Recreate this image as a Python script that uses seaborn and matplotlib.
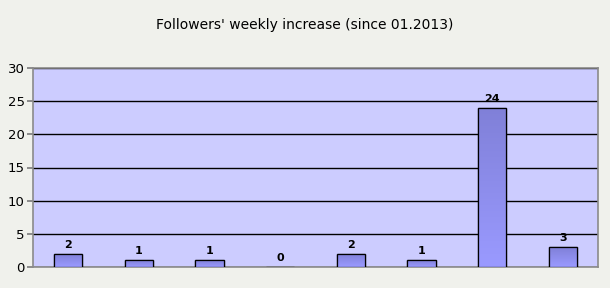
import matplotlib
matplotlib.use("Agg")
import matplotlib.pyplot as plt
import seaborn as sns
import numpy as np
import pandas as pd
from matplotlib.colors import LinearSegmentedColormap

weeks = ["W1", "W2", "W3", "W4", "W5", "W6", "W7", "W8"]
increase = [2, 1, 1, 0, 2, 1, 24, 3]
title = "Followers' weekly increase (since 01.2013)"

df = pd.DataFrame({"week": weeks, "increase": increase})

sns.set_theme(style="white")
plt.rcParams['font.family'] = ['DejaVu Sans']
plt.rcParams['text.color'] = 'black'
plt.rcParams['ytick.color'] = 'black'

fig = plt.figure(figsize=(6.1, 2.88), dpi=100, facecolor="#f0f1ec")
ax = fig.add_axes([33/610, 21/288, 565/610, 199/288])
ax.set_facecolor("#ccccff")

sns.barplot(data=df, x="week", y="increase", ax=ax, width=0.4,
            color="#8c8ce6", edgecolor="black", linewidth=0.9, saturation=1, zorder=3)

ax.set_ylim(0, 30)
ax.set_yticks([0, 5, 10, 15, 20, 25, 30])
ax.yaxis.grid(True, color="black", linewidth=1.0, zorder=1)
ax.set_axisbelow(True)
ax.set_xlabel("")
ax.set_ylabel("")
ax.set_xticks([])
ax.tick_params(axis="y", labelsize=9.5, length=4, color="#808080", labelcolor="black",
               left=True, pad=2)
for s in ax.spines.values():
    s.set_color("#8a8a8a")
    s.set_linewidth(1.2)

# gradient fill inside bars
cmap = LinearSegmentedColormap.from_list("g", ["#9a9aff", "#8080d8"])
grad = np.linspace(0, 1, 100).reshape(-1, 1)
for p in list(ax.patches):
    x0, y0 = p.get_x(), p.get_y()
    w, h = p.get_width(), p.get_height()
    if h <= 0:
        continue
    im = ax.imshow(grad, extent=[x0, x0 + w, y0, y0 + h], origin="lower",
                   cmap=cmap, aspect="auto", zorder=3.5)
    im.set_clip_path(p)
    ax.add_patch(plt.Rectangle((x0, y0), w, h, fill=False, edgecolor="black",
                               linewidth=0.9, zorder=4))
ax.set_xlim(-0.5, len(weeks) - 0.5)
ax.set_ylim(0, 30)

for i, v in enumerate(increase):
    ax.text(i, v + 0.6, str(v), ha="center", va="bottom", fontsize=8,
            fontweight="bold", color="black", zorder=5)

fig.text(0.5, 1 - 25/288, title, ha="center", va="center", fontsize=10, color="black")

fig.savefig("out.png", dpi=100, facecolor=fig.get_facecolor())
